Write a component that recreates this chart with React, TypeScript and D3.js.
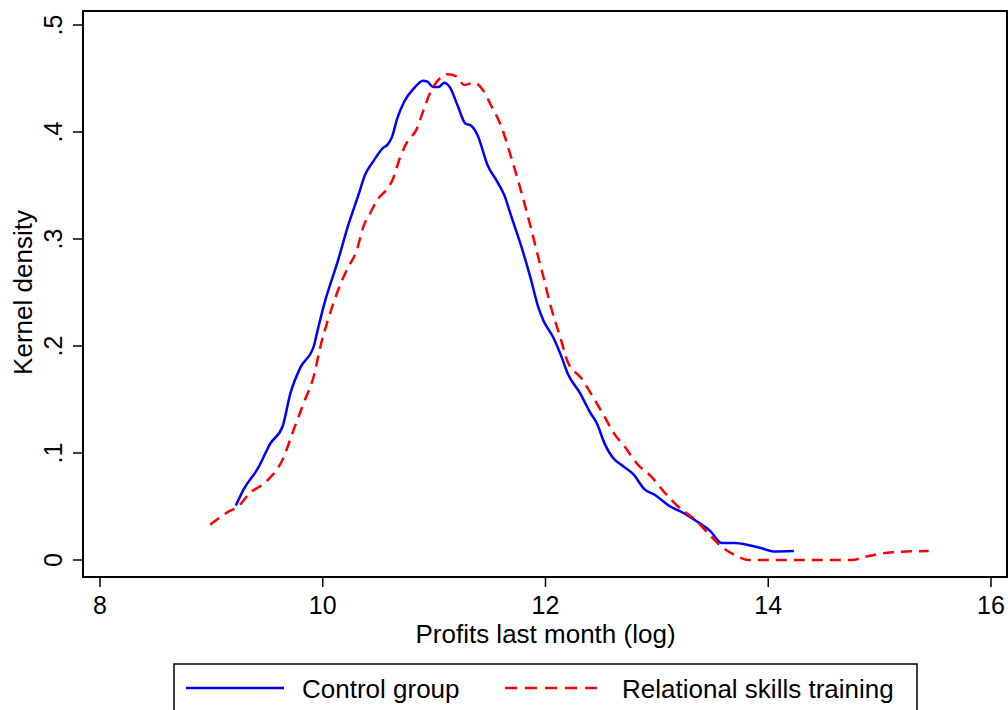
import React from "react";
import * as d3 from "d3";

const controlX = [9.22, 9.29, 9.42, 9.53, 9.64, 9.71, 9.80, 9.92, 9.95, 10.01, 10.14, 10.22, 10.32, 10.38, 10.45, 10.54, 10.58, 10.62, 10.67, 10.73, 10.82, 10.90, 10.94, 10.99, 11.04, 11.09, 11.14, 11.21, 11.28, 11.33, 11.39, 11.48, 11.57, 11.63, 11.69, 11.78, 11.87, 11.93, 11.98, 12.07, 12.14, 12.20, 12.31, 12.40, 12.46, 12.53, 12.61, 12.68, 12.79, 12.89, 12.98, 13.12, 13.22, 13.36, 13.48, 13.58, 13.70, 13.82, 13.94, 14.05, 14.23];
const controlY = [0.051, 0.066, 0.086, 0.109, 0.125, 0.156, 0.180, 0.200, 0.213, 0.238, 0.281, 0.310, 0.341, 0.360, 0.372, 0.385, 0.388, 0.395, 0.413, 0.428, 0.441, 0.448, 0.447, 0.442, 0.442, 0.446, 0.442, 0.425, 0.408, 0.406, 0.397, 0.369, 0.353, 0.341, 0.322, 0.294, 0.262, 0.238, 0.224, 0.208, 0.191, 0.174, 0.156, 0.138, 0.128, 0.109, 0.095, 0.089, 0.080, 0.066, 0.061, 0.050, 0.045, 0.036, 0.027, 0.016, 0.016, 0.014, 0.011, 0.008, 0.0084];

const trainingX = [8.99, 9.15, 9.24, 9.35, 9.49, 9.64, 9.74, 9.83, 9.92, 9.98, 10.04, 10.13, 10.22, 10.30, 10.37, 10.43, 10.50, 10.58, 10.63, 10.69, 10.76, 10.84, 10.90, 10.97, 11.05, 11.12, 11.20, 11.27, 11.36, 11.44, 11.51, 11.60, 11.69, 11.78, 11.87, 11.93, 11.98, 12.05, 12.13, 12.20, 12.32, 12.44, 12.53, 12.61, 12.71, 12.83, 12.95, 13.07, 13.19, 13.34, 13.46, 13.58, 13.70, 13.82, 14.75, 14.87, 15.11, 15.44];
const trainingY = [0.033, 0.045, 0.050, 0.063, 0.073, 0.094, 0.122, 0.147, 0.172, 0.200, 0.222, 0.250, 0.272, 0.288, 0.313, 0.325, 0.338, 0.347, 0.356, 0.375, 0.391, 0.402, 0.419, 0.438, 0.450, 0.454, 0.452, 0.444, 0.446, 0.439, 0.425, 0.406, 0.377, 0.345, 0.310, 0.285, 0.265, 0.236, 0.209, 0.185, 0.170, 0.150, 0.134, 0.119, 0.106, 0.089, 0.078, 0.063, 0.050, 0.038, 0.025, 0.0125, 0.0047, 0.0, 0.0, 0.003, 0.0072, 0.0084];

const xTicks = [8, 10, 12, 14, 16];
const yTicks = [0, 0.1, 0.2, 0.3, 0.4, 0.5];
const yTickLabels = ["0", ".1", ".2", ".3", ".4", ".5"];
const seriesNames = ["Control group", "Relational skills training"];
const xTitle = "Profits last month (log)";
const yTitle = "Kernel density";

const FONT = "'Liberation Sans', Arial, Helvetica, sans-serif";

export default function App() {
  const W = 1008, H = 710;
  const frame = { left: 83, top: 11, right: 1007, bottom: 577 };
  const x = d3.scaleLinear().domain([8, 16]).range([100, 991]);
  const y = d3.scaleLinear().domain([0, 0.5]).range([560, 25]);

  const line = d3
    .line<[number, number]>()
    .x((d) => x(d[0]))
    .y((d) => y(d[1]))
    .curve(d3.curveMonotoneX);

  const controlPts = controlX.map((v, i) => [v, controlY[i]] as [number, number]);
  const trainingPts = trainingX.map((v, i) => [v, trainingY[i]] as [number, number]);

  const fs = 26;
  const tfs = 25;

  return (
    <svg
      width={W}
      height={H}
      style={{ position: "absolute", left: 0, top: 0, background: "#fff" }}
      fontFamily={FONT}
    >
      <rect x={0} y={0} width={W} height={H} fill="#fff" />
      {/* frame */}
      <rect
        x={frame.left}
        y={frame.top}
        width={frame.right - frame.left}
        height={frame.bottom - frame.top}
        fill="none"
        stroke="#000"
        strokeWidth={2}
      />
      {/* y ticks */}
      {yTicks.map((t, i) => (
        <g key={"y" + i}>
          <line x1={73} x2={frame.left} y1={y(t)} y2={y(t)} stroke="#000" strokeWidth={1.5} />
          <text
            transform={`translate(62,${y(t)}) rotate(-90)`}
            textAnchor="middle"
            fontSize={tfs}
            fill="#000"
          >
            {yTickLabels[i]}
          </text>
        </g>
      ))}
      {/* x ticks */}
      {xTicks.map((t, i) => (
        <g key={"x" + i}>
          <line x1={x(t)} x2={x(t)} y1={frame.bottom} y2={587} stroke="#000" strokeWidth={1.5} />
          <text x={x(t)} y={614} textAnchor="middle" fontSize={tfs} fill="#000">
            {t}
          </text>
        </g>
      ))}
      <text x={x(12)} y={643} textAnchor="middle" fontSize={fs} fill="#000">
        {xTitle}
      </text>
      <text
        transform={`translate(32,${y(0.25)}) rotate(-90)`}
        textAnchor="middle"
        fontSize={fs}
        fill="#000"
      >
        {yTitle}
      </text>

      {/* curves */}
      <path d={line(controlPts) || ""} fill="none" stroke="#0000ff" strokeWidth={2.5} strokeLinejoin="round" />
      <path
        d={line(trainingPts) || ""}
        fill="none"
        stroke="#ff0000"
        strokeWidth={2.5}
        strokeDasharray="11,7"
      />

      {/* legend */}
      <rect x={174} y={664} width={743} height={60} fill="#fff" stroke="#000" strokeWidth={1.5} />
      <line x1={186} x2={284} y1={688} y2={688} stroke="#0000ff" strokeWidth={2.5} />
      <text x={302} y={698} fontSize={fs} fill="#000">
        {seriesNames[0]}
      </text>
      <line x1={505} x2={605} y1={688} y2={688} stroke="#ff0000" strokeWidth={2.5} strokeDasharray="12,8" />
      <text x={622} y={698} fontSize={fs} fill="#000">
        {seriesNames[1]}
      </text>
    </svg>
  );
}
